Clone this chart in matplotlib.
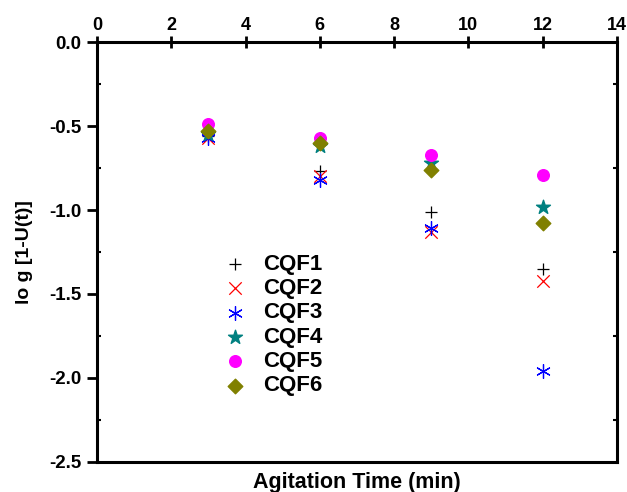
import matplotlib
matplotlib.use('Agg')
import matplotlib.pyplot as plt
from matplotlib.ticker import MultipleLocator

plt.rcParams['font.family'] = ['Liberation Sans', 'DejaVu Sans']
plt.rcParams['font.weight'] = 'bold'

time = [3, 6, 9, 12]
cqf1 = [-0.56, -0.77, -1.01, -1.35]
cqf2 = [-0.57, -0.80, -1.13, -1.42]
cqf3 = [-0.57, -0.82, -1.11, -1.96]
cqf4 = [-0.55, -0.62, -0.72, -0.98]
cqf5 = [-0.49, -0.57, -0.67, -0.79]
cqf6 = [-0.53, -0.60, -0.76, -1.08]

fig = plt.figure(figsize=(6.27, 4.92), dpi=100)
ax = fig.add_axes([0.1547, 0.061, 0.829, 0.8536])

ax.scatter(time, cqf1, marker='+', s=80, color='black', linewidths=0.9, label='CQF1')
ax.scatter(time, cqf2, marker='x', s=80, color='red', linewidths=0.9, label='CQF2')
ax.scatter(time, cqf3, marker=(6, 2, 0), s=100, color='blue', linewidths=0.9, label='CQF3')
ax.scatter(time, cqf4, marker='*', s=110, color='#008080', label='CQF4')
ax.scatter(time, cqf5, marker='o', s=70, color='magenta', label='CQF5')
ax.scatter(time, cqf6, marker='D', s=55, color='#808000', label='CQF6')

ax.set_xlim(0, 14)
ax.set_ylim(-2.5, 0.0)
ax.xaxis.set_major_locator(MultipleLocator(2))
ax.yaxis.set_major_locator(MultipleLocator(0.5))
ax.yaxis.set_minor_locator(MultipleLocator(0.25))
ax.yaxis.set_major_formatter(matplotlib.ticker.FormatStrFormatter('%.1f'))

ax.xaxis.tick_top()
ax.tick_params(axis='x', which='major', direction='inout', length=8, width=2,
               labelsize=13, pad=2)
ax.tick_params(axis='y', which='major', direction='out', length=7, width=2,
               labelsize=13.5, right=False, pad=4)
ax.tick_params(axis='y', which='minor', direction='in', length=3, width=1.5,
               right=True)
for lbl in ax.get_xticklabels() + ax.get_yticklabels():
    lbl.set_fontweight('bold')

for side in ['left', 'right', 'top', 'bottom']:
    ax.spines[side].set_linewidth(2.2)

ax.set_xlabel('Agitation Time (min)', fontsize=15.5, fontweight='bold')
ax.xaxis.set_label_position('bottom')
ax.xaxis.labelpad = 7
ax.set_ylabel('lo g [1-U(t)]', fontsize=14, fontweight='bold', labelpad=12)

ax.legend(loc='upper left', bbox_to_anchor=(0.223, 0.517), frameon=False,
          prop={'size': 16, 'weight': 'bold'}, handlelength=1.2,
          handletextpad=0.66, labelspacing=0.15, borderaxespad=0)

plt.savefig('out.png', dpi=100)
plt.close()
